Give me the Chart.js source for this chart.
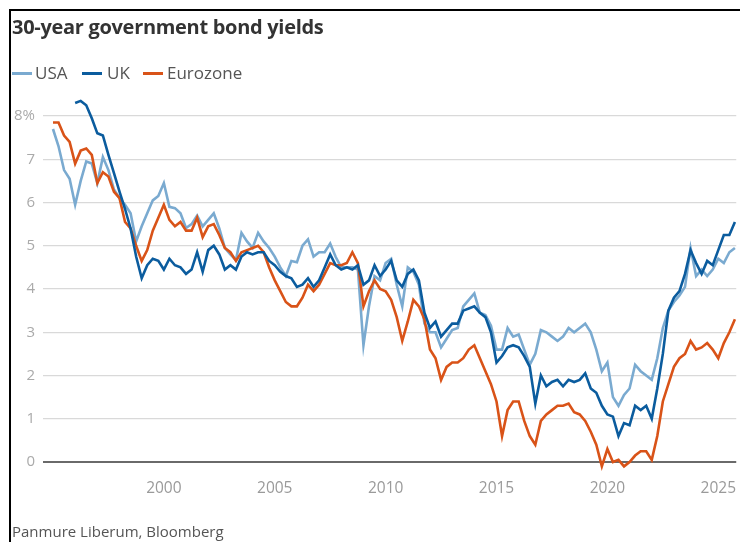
<!DOCTYPE html>
<html><head><meta charset="utf-8">
<script src="https://cdn.jsdelivr.net/npm/chart.js@4.4.1/dist/chart.umd.min.js"></script>
<style>
html,body{margin:0;padding:0;background:#fff;}
body{width:740px;height:542px;position:relative;overflow:hidden;font-family:"Open Sans",sans-serif;}
#frame{position:absolute;left:9px;top:9px;width:740px;height:540px;border-left:2px solid #000;border-top:2px solid #000;box-sizing:border-box;}
#title{position:absolute;left:12px;top:13px;font-size:20px;font-weight:700;color:#333;white-space:nowrap;letter-spacing:-0.3px;}
.item{position:absolute;top:62px;font-size:17px;color:#555;white-space:nowrap;line-height:22px;}
.sw{position:absolute;top:72px;width:20px;height:3px;}
#source{position:absolute;left:12px;top:521px;font-size:15px;color:#555;white-space:nowrap;}
#wrap{position:absolute;left:0;top:0;width:740px;height:542px;}
</style></head>
<body>
<div id="wrap"><canvas id="c" width="740" height="542"></canvas></div>
<div id="frame"></div>
<div id="title">30-year government bond yields</div>
<div class="sw" style="left:12px;background:#7aaad0"></div><div class="item" style="left:35px">USA</div>
<div class="sw" style="left:82px;background:#0b5c9e"></div><div class="item" style="left:107px">UK</div>
<div class="sw" style="left:143px;background:#d95318"></div><div class="item" style="left:167px">Eurozone</div>
<div id="source">Panmure Liberum, Bloomberg</div>
<script>
const dates = [
1995.00,1995.25,1995.50,1995.75,1996.00,1996.25,1996.50,1996.75,1997.00,1997.25,1997.50,1997.75,
1998.00,1998.25,1998.50,1998.75,1999.00,1999.25,1999.50,1999.75,2000.00,2000.25,2000.50,2000.75,
2001.00,2001.25,2001.50,2001.75,2002.00,2002.25,2002.50,2002.75,2003.00,2003.25,2003.50,2003.75,
2004.00,2004.25,2004.50,2004.75,2005.00,2005.25,2005.50,2005.75,2006.00,2006.25,2006.50,2006.75,
2007.00,2007.25,2007.50,2007.75,2008.00,2008.25,2008.50,2008.75,2009.00,2009.25,2009.50,2009.75,
2010.00,2010.25,2010.50,2010.75,2011.00,2011.25,2011.50,2011.75,2012.00,2012.25,2012.50,2012.75,
2013.00,2013.25,2013.50,2013.75,2014.00,2014.25,2014.50,2014.75,2015.00,2015.25,2015.50,2015.75,
2016.00,2016.25,2016.50,2016.75,2017.00,2017.25,2017.50,2017.75,2018.00,2018.25,2018.50,2018.75,
2019.00,2019.25,2019.50,2019.75,2020.00,2020.25,2020.50,2020.75,2021.00,2021.25,2021.50,2021.75,
2022.00,2022.25,2022.50,2022.75,2023.00,2023.25,2023.50,2023.75,2024.00,2024.25,2024.50,2024.75,
2025.00,2025.25,2025.50,2025.75];

const usa = [
7.7,7.3,6.75,6.55, 5.95,6.5,6.95,6.9, 6.45,7.05,6.75,6.3, 6.1,5.95,5.75,5.1,
5.45,5.75,6.05,6.15, 6.45,5.9,5.87,5.75, 5.41,5.5,5.7,5.45, 5.6,5.75,5.4,4.95,
4.8,4.67,5.3,5.1, 4.95,5.3,5.1,4.95, 4.75,4.5,4.3,4.65, 4.62,5.0,5.15,4.75,
4.85,4.85,5.05,4.74, 4.5,4.5,4.5,4.45, 2.7,3.6,4.3,4.2, 4.6,4.7,4.1,3.6,
4.5,4.4,4.1,3.2, 3.0,3.0,2.65,2.85, 3.05,3.1,3.6,3.75, 3.9,3.45,3.4,3.15,
2.6,2.6,3.1,2.9, 2.95,2.6,2.25,2.5, 3.05,3.0,2.9,2.8, 2.9,3.1,3.0,3.1,
3.2,3.0,2.6,2.1, 2.3,1.5,1.3,1.55, 1.7,2.25,2.1,2.0, 1.9,2.4,3.1,3.5,
3.7,3.85,4.05,4.95, 4.3,4.45,4.3,4.45, 4.7,4.6,4.85,4.95];

const uk = [
null,null,null,null, 8.3,8.35,8.25,7.95, 7.6,7.55,7.1,6.68, 6.25,5.85,5.4,4.75,
4.25,4.55,4.7,4.65, 4.45,4.7,4.55,4.5, 4.35,4.45,4.85,4.4, 4.9,5.0,4.8,4.45,
4.55,4.45,4.75,4.85, 4.8,4.85,4.85,4.65, 4.55,4.4,4.3,4.25, 4.05,4.1,4.25,4.05,
4.2,4.5,4.8,4.55, 4.45,4.5,4.45,4.55, 4.1,4.2,4.55,4.3, 4.45,4.65,4.2,4.05,
4.35,4.45,4.2,3.45, 3.1,3.25,2.9,3.05, 3.2,3.2,3.5,3.55, 3.6,3.45,3.35,3.0,
2.3,2.45,2.65,2.7, 2.65,2.45,2.2,1.35, 2.0,1.75,1.85,1.9, 1.75,1.9,1.85,1.9,
2.05,1.7,1.6,1.3, 1.1,1.05,0.6,0.9, 0.85,1.3,1.2,1.3, 1.0,1.7,2.5,3.5,
3.8,3.95,4.35,4.9, 4.6,4.35,4.65,4.55, 4.9,5.25,5.25,5.55];

const eurozone = [
7.85,7.85,7.55,7.4, 6.9,7.2,7.25,7.1, 6.45,6.7,6.6,6.25, 6.1,5.55,5.4,5.0,
4.65,4.9,5.35,5.65, 5.95,5.6,5.45,5.55, 5.35,5.35,5.65,5.2, 5.45,5.5,5.25,4.95,
4.85,4.65,4.85,4.9, 4.95,5.0,4.85,4.5, 4.2,3.95,3.7,3.6, 3.6,3.8,4.1,3.95,
4.1,4.35,4.6,4.55, 4.55,4.6,4.85,4.6, 3.6,3.95,4.2,4.0, 3.95,3.75,3.35,2.8,
3.25,3.75,3.6,3.3, 2.6,2.4,1.9,2.2, 2.3,2.3,2.4,2.6, 2.7,2.4,2.1,1.8,
1.4,0.6,1.2,1.4, 1.4,0.95,0.6,0.4, 0.95,1.1,1.2,1.3, 1.3,1.35,1.15,1.1,
0.95,0.7,0.4,-0.1, 0.3,0.0,0.05,-0.1, 0.0,0.15,0.25,0.25, 0.05,0.6,1.4,1.8,
2.2,2.4,2.5,2.8, 2.6,2.65,2.75,2.6, 2.4,2.75,3.0,3.3];

const xTicks = [2000, 2005, 2010, 2015, 2020, 2025];
const yTicks = [0, 1, 2, 3, 4, 5, 6, 7, 8];

function pts(arr){ return dates.map((d,i)=>({x:d, y:arr[i]})); }

new Chart(document.getElementById('c'), {
  type: 'line',
  data: { datasets: [
    { label:'UK', data: pts(uk), borderColor:'#0b5c9e', borderWidth:2.6, pointRadius:0, tension:0, order:0 },
    { label:'Eurozone', data: pts(eurozone), borderColor:'#d95318', borderWidth:2.6, pointRadius:0, tension:0, order:1 },
    { label:'USA', data: pts(usa), borderColor:'#7aaad0', borderWidth:2.6, pointRadius:0, tension:0, order:2 }
  ]},
  options: {
    responsive:false, animation:false,
    layout:{ padding:{ top:94.4, left:0, right:0, bottom:0 } },
    plugins:{ legend:{display:false}, tooltip:{enabled:false} },
    scales:{
      x:{ type:'linear', min:1994.55, max:2025.81,
          afterBuildTicks: s => { s.ticks = xTicks.map(v=>({value:v})); },
          afterFit: s => { s.height = 67; },
          grid:{ display:false, drawTicks:false }, border:{ display:false },
          ticks:{ color:'#9a9a9a', font:{ family:'Open Sans', size:15.5 }, padding:4, maxRotation:0, autoSkip:false, callback: v => String(v) } },
      y:{ min:-0.3, max:8.5,
          afterBuildTicks: s => { s.ticks = yTicks.map(v=>({value:v})); },
          afterFit: s => { s.width = 43; },
          grid:{ drawTicks:false, color: c => c.tick && c.tick.value === 0 ? '#6a6a6a' : '#d9d9d9', lineWidth: c => c.tick && c.tick.value === 0 ? 2 : 1.3 },
          border:{ display:false },
          ticks:{ color:'#aaaaaa', font:{ family:'Open Sans', size:15 }, padding:8, autoSkip:false, callback: v => v === 8 ? '8%' : String(v) } }
    }
  }
});
</script>
</body></html>
